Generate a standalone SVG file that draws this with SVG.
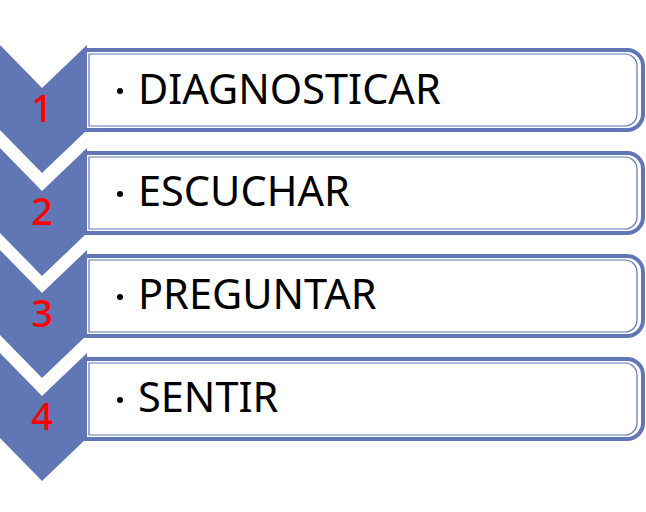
<svg xmlns="http://www.w3.org/2000/svg" width="646" height="512" viewBox="0 0 646 512">
<style>
.chev{fill:#6177b5}
.box{fill:#fff;stroke:#6177b5;stroke-width:4}
.inner{fill:none;stroke:#6177b5;stroke-width:1.2}
.num{font-family:"Noto Sans","Open Sans",sans-serif;font-size:38px;font-weight:500;fill:#ff0000;text-anchor:middle}
.lbl{font-family:"Noto Sans","Open Sans",sans-serif;font-size:41.5px;fill:#000}
.dot{fill:#000}
</style>
<rect width="646" height="512" fill="#fff"/>
<defs>
<path id="chevShape" d="M0,0 L42,43 L87,0 L87,85 L42,128 L0,85 Z"/>
<path id="boxShape" d="M0,0 H542 A16,16 0 0 1 558,16 V64 A16,16 0 0 1 542,80 H0 Z"/>
<path id="innerShape" d="M4,4 H540 A12,12 0 0 1 552,16 V64 A12,12 0 0 1 540,76 H4 Z"/>
</defs>
<g id="step1">
<use href="#chevShape" class="chev" x="0" y="45"/>
<use href="#boxShape" class="box" x="85" y="50"/>
<use href="#innerShape" class="inner" x="85" y="50"/>
<text class="num" x="42" y="122">1</text>
<circle class="dot" cx="120" cy="91" r="3"/>
<text class="lbl" x="138" y="104">DIAGNOSTICAR</text>
</g>
<g id="step2">
<use href="#chevShape" class="chev" x="0" y="148"/>
<use href="#boxShape" class="box" x="85" y="153"/>
<use href="#innerShape" class="inner" x="85" y="153"/>
<text class="num" x="42" y="225">2</text>
<circle class="dot" cx="120" cy="194" r="3"/>
<text class="lbl" x="138" y="206">ESCUCHAR</text>
</g>
<g id="step3">
<use href="#chevShape" class="chev" x="0" y="250"/>
<use href="#boxShape" class="box" x="85" y="256"/>
<use href="#innerShape" class="inner" x="85" y="256"/>
<text class="num" x="42" y="327">3</text>
<circle class="dot" cx="120" cy="297" r="3"/>
<text class="lbl" x="138" y="309">PREGUNTAR</text>
</g>
<g id="step4">
<use href="#chevShape" class="chev" x="0" y="353"/>
<use href="#boxShape" class="box" x="85" y="359"/>
<use href="#innerShape" class="inner" x="85" y="359"/>
<text class="num" x="42" y="430">4</text>
<circle class="dot" cx="120" cy="400" r="3"/>
<text class="lbl" x="138" y="412">SENTIR</text>
</g>
<g id="connectors"></g>
</svg>
